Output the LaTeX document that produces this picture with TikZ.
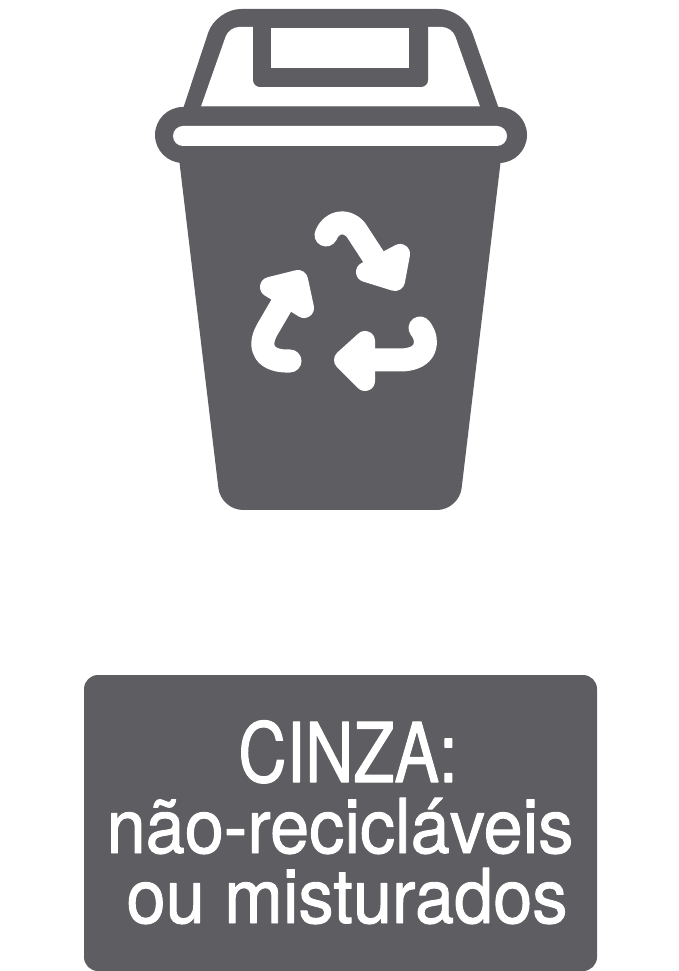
\documentclass[tikz,border=0pt]{standalone}
\usepackage{fontspec}
\setmainfont{TeX Gyre Heros}[FakeStretch=0.93,FakeBold=1.2]
\newfontfamily\capsfont{TeX Gyre Heros}[FakeStretch=0.81,FakeBold=1.2]
\definecolor{binGray}{HTML}{5E5E62}
\tikzset{
  binFill/.style={fill=binGray,draw=none},
  holeFill/.style={fill=white,draw=none},
  recycleStem/.style={draw=white,line width=0.23cm,line cap=round,line join=round},
  recycleHead/.style={fill=white,draw=white,line width=0.2cm,line join=round},
  labelLine/.style={text=white,anchor=base,inner sep=0pt,font=\fontsize{#1}{#1}\selectfont},
}
\begin{document}
\begin{tikzpicture}[x=0.01cm,y=-0.01cm,line join=round,line cap=round]
\useasboundingbox (0,0) rectangle (678,971);
% lid
\fill[binFill] (182,112) [rounded corners=0.25cm] --(216,9)--(464,9) [sharp corners] --(500,112)--cycle;
\fill[holeFill] (201,106.5) [rounded corners=0.1cm] --(229,27)--(452,27) [sharp corners] --(480,106.5)--cycle;
\fill[binFill,rounded corners=0.07cm] (253,15)--(253,87)--(428,87)--(428,15)--cycle;
\fill[holeFill] (271,28) rectangle (409,68);
% rim and body
\fill[binFill,rounded corners=0.28cm] (155,107) rectangle (527,163);
\fill[binFill] (178,150) [rounded corners=0.22cm] --(221,510)--(459,510) [sharp corners] --(502,150)--cycle;
\fill[holeFill,rounded corners=0.1cm] (173,126) rectangle (507,146);
% recycle arrows
\draw[recycleStem] (326,235) .. controls (331,222) and (346,218) .. (356,230)--(384,273);
\fill[recycleHead] (400,254)--(395,281)--(366,272)--cycle;
\draw[recycleStem] (290,361) .. controls (265,362) and (257,348) .. (267,330)--(291,289);
\fill[recycleHead] (270,287)--(298,280)--(304,308)--cycle;
\draw[recycleStem] (420,328) .. controls (430,340) and (428,360) .. (400,360)--(355,360);
\fill[recycleHead] (365,341)--(344,360)--(365,381)--cycle;
% label
\fill[binFill,rounded corners=0.14cm] (84,675) rectangle (597,971);
\node[labelLine=23.5] (lineA) at (348,782) {\capsfont CINZA:};
\node[labelLine=21.5] (lineB) at (340,853) {não-recicláveis};
\node[labelLine=21.5] (lineC) at (347,923) {ou misturados};
\end{tikzpicture}
\end{document}
